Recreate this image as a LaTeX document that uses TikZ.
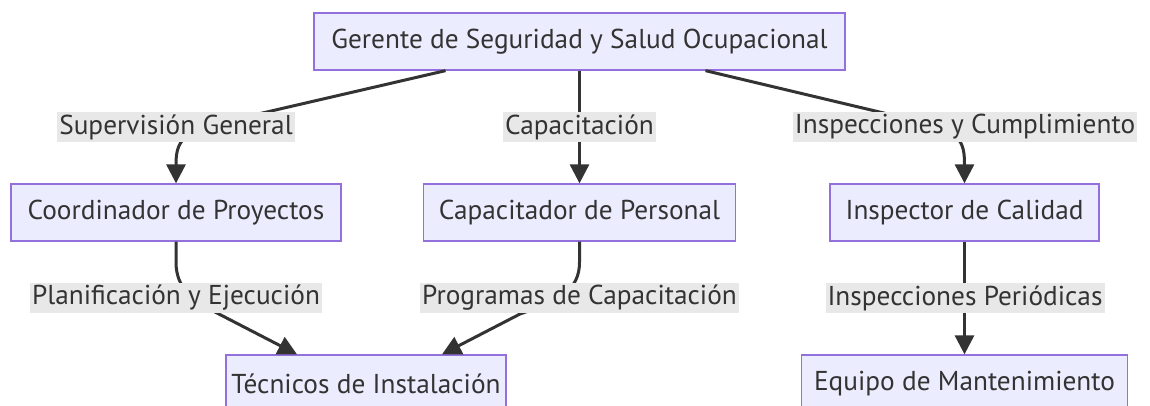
\documentclass[tikz,border=0pt]{standalone}
\usepackage{fontspec}
\setmainfont{PT Sans}
\usetikzlibrary{arrows.meta}
\definecolor{cajafondo}{HTML}{ECECFF}
\definecolor{cajaborde}{HTML}{9370DB}
\definecolor{linea}{HTML}{333333}
\definecolor{etiquetafondo}{HTML}{E8E8E8}
\tikzstyle{cargo} = [rectangle, minimum height=57pt, text centered, draw=cajaborde, line width=1.3pt, fill=cajafondo, text=linea, font=\fontsize{27.3}{32}\selectfont]
\tikzstyle{etiqueta} = [rectangle, fill=etiquetafondo, inner sep=2pt, minimum height=29pt, text=linea, font=\fontsize{27.3}{32}\selectfont]
\tikzstyle{arrow} = [line width=3pt, draw=linea, -{Triangle[length=19pt, width=19pt]}]

\begin{document}
\begin{tikzpicture}[node distance=171pt, x=1pt, y=-1pt]
      \useasboundingbox (0,0) rectangle (1150,405);
      \node (gerente) [cargo, minimum width=531pt] at (579.5,41.5) {Gerente de Seguridad y Salud Ocupacional};
      \node (capacitador) [cargo, below of=gerente, minimum width=312pt] {Capacitador de Personal};
      \node (coordinador) [cargo, below of=gerente, xshift=-403.5pt, minimum width=330pt] {Coordinador de Proyectos};
      \node (inspector) [cargo, below of=gerente, xshift=385pt, minimum width=269pt] {Inspector de Calidad};
      \node (tecnicos) [cargo, below of=coordinador, xshift=190pt, minimum width=280pt] {Técnicos de Instalación};
      \node (equipo) [cargo, below of=inspector, minimum width=326pt] {Equipo de Mantenimiento};
      \draw [arrow] ([xshift=-134pt]gerente.south) -- (215,124) .. controls (180,133) and (176,145) .. (coordinador.north);
      \draw [arrow] (gerente.south -| capacitador.north) -- (capacitador.north);
      \draw [arrow] ([xshift=126pt]gerente.south) -- (930,124) .. controls (962,133) and (964.5,145) .. (inspector.north);
      \draw [arrow] (coordinador.south) -- (176,262) .. controls (176,290) and (195,301) .. (215,312) -- ([xshift=-69pt]tecnicos.north);
      \draw [arrow] (capacitador.south) -- (579.5,262) .. controls (579.5,290) and (560,300) .. (520,314) -- ([xshift=76pt]tecnicos.north);
      \draw [arrow] (inspector.south) -- (equipo.north);
      \node (sup) [etiqueta] at (176,127) {Supervisión General};
      \node (cap) [etiqueta] at (579.5,127) {Capacitación};
      \node (insc) [etiqueta] at (965,127) {Inspecciones y Cumplimiento};
      \node (plan) [etiqueta] at (176,298) {Planificación y Ejecución};
      \node (prog) [etiqueta] at (579.5,298) {Programas de Capacitación};
      \node (insp) [etiqueta] at (965,298) {Inspecciones Periódicas};
    \end{tikzpicture}
\end{document}
